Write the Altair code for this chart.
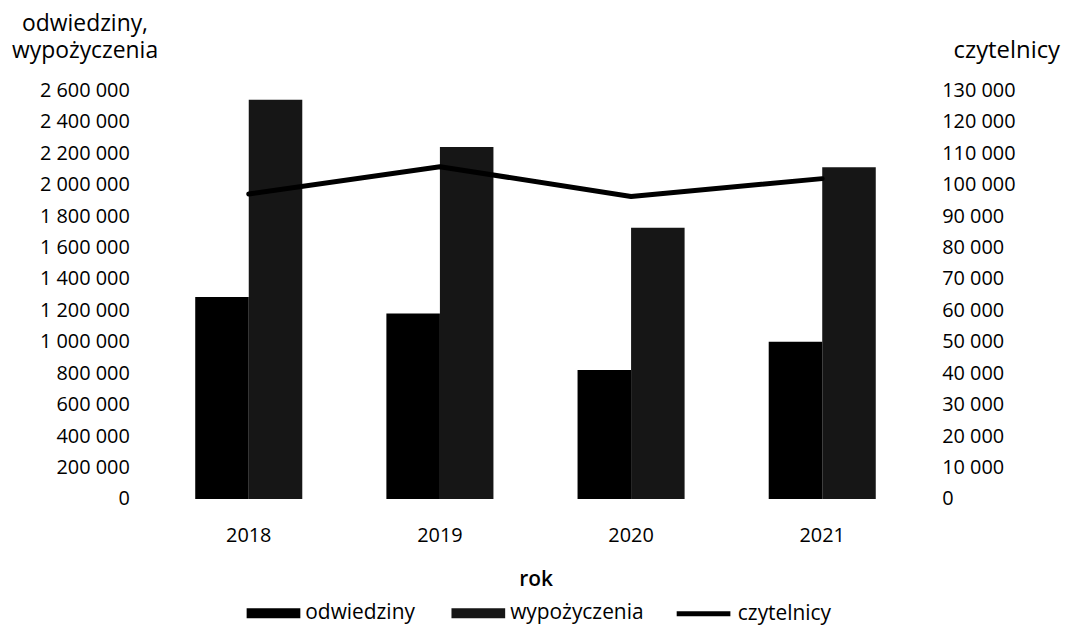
import altair as alt
import pandas as pd

FONT = "Open Sans"

years = ["2018", "2019", "2020", "2021"]
series = ["odwiedziny", "wypożyczenia"]
odwiedziny = [1285000, 1180000, 820000, 1000000]
wypozyczenia = [2540000, 2240000, 1725000, 2110000]
czytelnicy = [97000, 105700, 96200, 101900]
left_ticks = [0, 200000, 400000, 600000, 800000, 1000000, 1200000, 1400000,
              1600000, 1800000, 2000000, 2200000, 2400000, 2600000]
right_ticks = [0, 10000, 20000, 30000, 40000, 50000, 60000, 70000, 80000,
               90000, 100000, 110000, 120000, 130000]

bars_df = pd.DataFrame({
    "rok": years * 2,
    "seria": [series[0]] * len(years) + [series[1]] * len(years),
    "wartosc": odwiedziny + wypozyczenia,
})
line_df = pd.DataFrame({
    "rok": years,
    "czytelnicy": czytelnicy,
    "seria2": ["czytelnicy"] * len(years),
})

space_fmt = "replace(format(datum.value, ','), regexp(',', 'g'), ' ')"

x_enc = alt.X(
    "rok:N", sort=years,
    scale=alt.Scale(paddingInner=0.44, paddingOuter=0.22),
    axis=alt.Axis(
        title="rok", labelAngle=0, domain=False, ticks=False, tickSize=0,
        grid=False, labelPadding=27, labelFontSize=20, labelFont=FONT,
        labelColor="#000", titleFontSize=21, titleFont=FONT,
        titleFontWeight=600, titleColor="#000", titleY=87,
        titleBaseline="alphabetic",
    ),
)

bars = alt.Chart(bars_df).mark_bar().encode(
    x=x_enc,
    xOffset=alt.XOffset("seria:N", sort=series,
                        scale=alt.Scale(paddingInner=0, paddingOuter=0)),
    y=alt.Y(
        "wartosc:Q",
        scale=alt.Scale(domain=[0, 2600000], nice=False),
        axis=alt.Axis(
            orient="left", values=left_ticks, labelExpr=space_fmt,
            title=["odwiedziny,", "wypożyczenia"], titleAngle=0,
            titleAlign="center", titleBaseline="alphabetic", titleX=-69,
            titleY=-60, titleLineHeight=27, titleFontSize=23, titleFont=FONT,
            titleFontWeight="normal", titleColor="#000",
            labelFontSize=20, labelFont=FONT, labelColor="#000",
            domain=False, ticks=False, tickSize=0, grid=False, labelPadding=24,
        ),
    ),
    color=alt.Color(
        "seria:N",
        scale=alt.Scale(domain=series, range=["#000000", "#161616"]),
        legend=alt.Legend(
            title=None, orient="none", legendX=94, legendY=499,
            direction="horizontal", symbolType="M-1,-0.185H1V0.185H-1Z",
            symbolSize=2916, symbolStrokeWidth=0, symbolOpacity=1,
            labelFontSize=21, labelFont=FONT, labelColor="#000",
            labelOffset=5, columnPadding=36, padding=0,
        ),
    ),
)

line = alt.Chart(line_df).mark_line(
    strokeWidth=5, strokeCap="round", strokeJoin="round"
).encode(
    x=x_enc,
    y=alt.Y(
        "czytelnicy:Q",
        scale=alt.Scale(domain=[0, 130000], nice=False),
        axis=alt.Axis(
            orient="right", values=right_ticks, labelExpr=space_fmt,
            title="czytelnicy", titleAngle=0, titleAlign="center",
            titleBaseline="alphabetic", titleX=89, titleY=-33,
            titleFontSize=24, titleFont=FONT, titleFontWeight="normal",
            titleColor="#000", labelFontSize=20, labelFont=FONT,
            labelColor="#000", domain=False, ticks=False, tickSize=0,
            grid=False, labelPadding=24,
        ),
    ),
    color=alt.Color(
        "seria2:N",
        scale=alt.Scale(domain=["czytelnicy"], range=["#000000"]),
        legend=alt.Legend(
            title=None, orient="none", legendX=524, legendY=497,
            symbolType="stroke", symbolSize=2916, symbolStrokeWidth=5,
            labelFontSize=21, labelFont=FONT, labelColor="#000",
            labelOffset=5, padding=0,
        ),
    ),
)

chart = alt.layer(bars, line).resolve_scale(
    y="independent", color="independent"
).properties(
    width=769, height=411,
    padding={"left": 146, "top": 81, "right": 144, "bottom": 129},
    autosize="none",
).configure(
    font=FONT, background="white"
).configure_view(stroke=None, strokeWidth=0)

chart.save("out.html", embed_options={"renderer": "svg", "actions": False})
